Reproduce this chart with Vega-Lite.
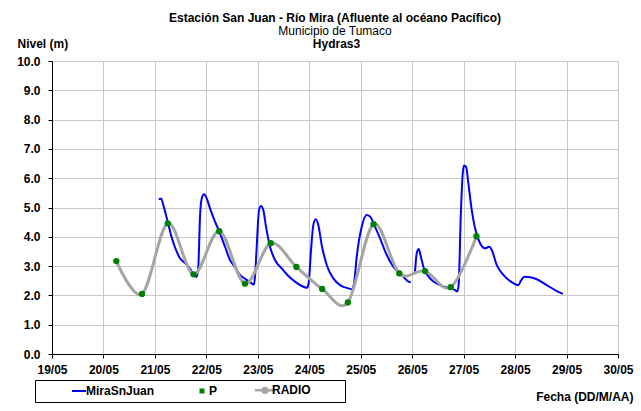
{
  "$schema": "https://vega.github.io/schema/vega-lite/v6.json",
  "width": 566,
  "height": 293,
  "autosize": "none",
  "padding": {"left": 52, "top": 61, "right": 23, "bottom": 57},
  "background": "#FFFFFF",
  "datasets": {
    "mira": [
      {"t": "2012-05-21T01:46", "nivel": 5.29, "tramo": 1},
      {"t": "2012-05-21T02:59", "nivel": 5.30, "tramo": 1},
      {"t": "2012-05-21T03:55", "nivel": 5.08, "tramo": 1},
      {"t": "2012-05-21T05:58", "nivel": 4.52, "tramo": 1},
      {"t": "2012-05-21T07:50", "nivel": 3.98, "tramo": 1},
      {"t": "2012-05-21T09:50", "nivel": 3.55, "tramo": 1},
      {"t": "2012-05-21T11:42", "nivel": 3.27, "tramo": 1},
      {"t": "2012-05-21T12:58", "nivel": 3.17, "tramo": 1},
      {"t": "2012-05-21T16:22", "nivel": 2.92, "tramo": 1},
      {"t": "2012-05-21T18:23", "nivel": 2.66, "tramo": 1},
      {"t": "2012-05-21T19:30", "nivel": 2.64, "tramo": 1},
      {"t": "2012-05-21T20:15", "nivel": 2.98, "tramo": 1},
      {"t": "2012-05-21T21:02", "nivel": 4.69, "tramo": 1},
      {"t": "2012-05-21T21:50", "nivel": 5.31, "tramo": 1},
      {"t": "2012-05-21T22:54", "nivel": 5.45, "tramo": 1},
      {"t": "2012-05-22T00:10", "nivel": 5.31, "tramo": 1},
      {"t": "2012-05-22T01:42", "nivel": 4.97, "tramo": 1},
      {"t": "2012-05-22T04:02", "nivel": 4.52, "tramo": 1},
      {"t": "2012-05-22T06:22", "nivel": 4.12, "tramo": 1},
      {"t": "2012-05-22T08:42", "nivel": 3.66, "tramo": 1},
      {"t": "2012-05-22T11:02", "nivel": 3.21, "tramo": 1},
      {"t": "2012-05-22T12:34", "nivel": 3.04, "tramo": 1},
      {"t": "2012-05-22T15:42", "nivel": 2.70, "tramo": 1},
      {"t": "2012-05-22T18:49", "nivel": 2.53, "tramo": 1},
      {"t": "2012-05-22T21:09", "nivel": 2.41, "tramo": 1},
      {"t": "2012-05-22T22:13", "nivel": 2.37, "tramo": 1},
      {"t": "2012-05-22T22:41", "nivel": 2.64, "tramo": 1},
      {"t": "2012-05-22T23:29", "nivel": 3.66, "tramo": 1},
      {"t": "2012-05-23T00:34", "nivel": 4.91, "tramo": 1},
      {"t": "2012-05-23T01:30", "nivel": 5.05, "tramo": 1},
      {"t": "2012-05-23T02:34", "nivel": 4.91, "tramo": 1},
      {"t": "2012-05-23T03:50", "nivel": 4.34, "tramo": 1},
      {"t": "2012-05-23T05:41", "nivel": 3.66, "tramo": 1},
      {"t": "2012-05-23T08:01", "nivel": 3.21, "tramo": 1},
      {"t": "2012-05-23T11:09", "nivel": 2.92, "tramo": 1},
      {"t": "2012-05-23T14:14", "nivel": 2.66, "tramo": 1},
      {"t": "2012-05-23T17:21", "nivel": 2.47, "tramo": 1},
      {"t": "2012-05-23T20:28", "nivel": 2.32, "tramo": 1},
      {"t": "2012-05-23T23:05", "nivel": 2.26, "tramo": 1},
      {"t": "2012-05-23T23:53", "nivel": 2.53, "tramo": 1},
      {"t": "2012-05-24T00:49", "nivel": 3.55, "tramo": 1},
      {"t": "2012-05-24T01:53", "nivel": 4.40, "tramo": 1},
      {"t": "2012-05-24T03:00", "nivel": 4.60, "tramo": 1},
      {"t": "2012-05-24T04:13", "nivel": 4.40, "tramo": 1},
      {"t": "2012-05-24T05:48", "nivel": 3.72, "tramo": 1},
      {"t": "2012-05-24T08:08", "nivel": 3.04, "tramo": 1},
      {"t": "2012-05-24T11:13", "nivel": 2.58, "tramo": 1},
      {"t": "2012-05-24T14:21", "nivel": 2.35, "tramo": 1},
      {"t": "2012-05-24T18:13", "nivel": 2.24, "tramo": 1},
      {"t": "2012-05-24T19:48", "nivel": 2.21, "tramo": 1},
      {"t": "2012-05-24T20:53", "nivel": 2.41, "tramo": 1},
      {"t": "2012-05-24T22:08", "nivel": 3.32, "tramo": 1},
      {"t": "2012-05-25T00:28", "nivel": 4.34, "tramo": 1},
      {"t": "2012-05-25T02:48", "nivel": 4.74, "tramo": 1},
      {"t": "2012-05-25T04:20", "nivel": 4.69, "tramo": 1},
      {"t": "2012-05-25T06:40", "nivel": 4.34, "tramo": 1},
      {"t": "2012-05-25T09:00", "nivel": 3.95, "tramo": 1},
      {"t": "2012-05-25T12:08", "nivel": 3.38, "tramo": 1},
      {"t": "2012-05-25T15:12", "nivel": 2.98, "tramo": 1},
      {"t": "2012-05-25T19:07", "nivel": 2.70, "tramo": 1},
      {"t": "2012-05-25T22:12", "nivel": 2.47, "tramo": 1},
      {"t": "2012-05-25T23:19", "nivel": 2.45, "tramo": 1},
      {"t": "2012-05-26T01:20", "nivel": 2.81, "tramo": 2},
      {"t": "2012-05-26T02:07", "nivel": 3.44, "tramo": 2},
      {"t": "2012-05-26T03:03", "nivel": 3.58, "tramo": 2},
      {"t": "2012-05-26T03:59", "nivel": 3.34, "tramo": 2},
      {"t": "2012-05-26T05:12", "nivel": 2.98, "tramo": 2},
      {"t": "2012-05-26T08:20", "nivel": 2.58, "tramo": 2},
      {"t": "2012-05-26T12:59", "nivel": 2.35, "tramo": 2},
      {"t": "2012-05-26T17:39", "nivel": 2.24, "tramo": 2},
      {"t": "2012-05-26T19:59", "nivel": 2.18, "tramo": 2},
      {"t": "2012-05-26T21:04", "nivel": 2.13, "tramo": 2},
      {"t": "2012-05-26T21:43", "nivel": 2.41, "tramo": 2},
      {"t": "2012-05-26T22:39", "nivel": 4.69, "tramo": 2},
      {"t": "2012-05-26T23:35", "nivel": 6.17, "tramo": 2},
      {"t": "2012-05-27T00:11", "nivel": 6.43, "tramo": 2},
      {"t": "2012-05-27T01:07", "nivel": 6.39, "tramo": 2},
      {"t": "2012-05-27T02:12", "nivel": 5.83, "tramo": 2},
      {"t": "2012-05-27T03:47", "nivel": 4.91, "tramo": 2},
      {"t": "2012-05-27T05:19", "nivel": 4.29, "tramo": 2},
      {"t": "2012-05-27T07:39", "nivel": 3.78, "tramo": 2},
      {"t": "2012-05-27T09:59", "nivel": 3.61, "tramo": 2},
      {"t": "2012-05-27T11:59", "nivel": 3.66, "tramo": 2},
      {"t": "2012-05-27T13:06", "nivel": 3.55, "tramo": 2},
      {"t": "2012-05-27T15:26", "nivel": 3.04, "tramo": 2},
      {"t": "2012-05-27T18:31", "nivel": 2.70, "tramo": 2},
      {"t": "2012-05-27T22:26", "nivel": 2.45, "tramo": 2},
      {"t": "2012-05-28T01:31", "nivel": 2.35, "tramo": 2},
      {"t": "2012-05-28T02:38", "nivel": 2.49, "tramo": 2},
      {"t": "2012-05-28T04:19", "nivel": 2.64, "tramo": 2},
      {"t": "2012-05-28T06:58", "nivel": 2.62, "tramo": 2},
      {"t": "2012-05-28T10:06", "nivel": 2.55, "tramo": 2},
      {"t": "2012-05-28T14:46", "nivel": 2.35, "tramo": 2},
      {"t": "2012-05-28T18:38", "nivel": 2.18, "tramo": 2},
      {"t": "2012-05-28T22:14", "nivel": 2.05, "tramo": 2}
    ],
    "radio": [
      {"t": "2012-05-20T06:00", "nivel": 3.17},
      {"t": "2012-05-20T18:00", "nivel": 2.05},
      {"t": "2012-05-21T06:00", "nivel": 4.46},
      {"t": "2012-05-21T18:00", "nivel": 2.72},
      {"t": "2012-05-22T06:00", "nivel": 4.19},
      {"t": "2012-05-22T18:00", "nivel": 2.40},
      {"t": "2012-05-23T06:00", "nivel": 3.78},
      {"t": "2012-05-23T18:00", "nivel": 2.97},
      {"t": "2012-05-24T06:00", "nivel": 2.22},
      {"t": "2012-05-24T18:00", "nivel": 1.76},
      {"t": "2012-05-25T06:00", "nivel": 4.43},
      {"t": "2012-05-25T18:00", "nivel": 2.75},
      {"t": "2012-05-26T06:00", "nivel": 2.83},
      {"t": "2012-05-26T18:00", "nivel": 2.28},
      {"t": "2012-05-27T06:00", "nivel": 4.02}
    ]
  },
  "title": {
    "text": "Estación San Juan  - Río Mira (Afluente al océano Pacífico)",
    "subtitle": "Municipio de Tumaco",
    "anchor": "middle",
    "font": "Liberation Sans",
    "fontSize": 12,
    "fontWeight": "bold",
    "color": "#000000",
    "subtitleFont": "Liberation Sans",
    "subtitleFontSize": 12,
    "subtitleFontWeight": "normal",
    "subtitleColor": "#000000",
    "subtitlePadding": 1,
    "offset": -1
  },
  "config": {
    "view": {"stroke": "#808080", "strokeWidth": 1},
    "axis": {
      "labelFont": "Liberation Sans",
      "labelFontSize": 12,
      "labelFontWeight": "bold",
      "labelColor": "#000000",
      "labelOverlap": false,
      "titleFont": "Liberation Sans",
      "titleFontSize": 12,
      "titleFontWeight": "bold",
      "titleColor": "#000000",
      "gridColor": "#C8C8C8",
      "gridOpacity": 1,
      "gridWidth": 1,
      "domainColor": "#000000",
      "tickColor": "#000000",
      "tickSize": 4
    },
    "axisY": {
      "tickCount": 20,
      "format": ".1f",
      "labelPadding": 8,
      "labelOverlap": false,
      "labelFlush": false,
      "title": "Nivel (m)",
      "titleAngle": 0,
      "titleAlign": "left",
      "titleX": -35,
      "titleY": -14,
      "titleBaseline": "alphabetic"
    }
  },
  "layer": [
    {
      "data": {"name": "mira"},
      "mark": {"type": "line", "interpolate": "monotone", "strokeWidth": 2},
      "encoding": {
        "x": {
          "field": "t",
          "type": "temporal",
          "scale": {"domain": [{"year": 2012, "month": 5, "date": 19}, {"year": 2012, "month": 5, "date": 30}]},
          "axis": {
            "format": "%d/%m",
            "tickCount": {"interval": "day", "step": 1},
            "labelPadding": 6,
            "labelFlush": false,
            "labelOverlap": false,
            "title": "Fecha (DD/M/AA)",
            "titleAlign": "right",
            "titleAnchor": "end",
            "titleX": 581,
            "titleY": 46,
            "titleBaseline": "alphabetic"
          }
        },
        "y": {
          "field": "nivel",
          "type": "quantitative",
          "title": "Nivel (m)",
          "scale": {"domain": [0, 10], "nice": false, "zero": true},
          "axis": {"tickCount": 20, "values": [0, 1, 2, 3, 4, 5, 6, 7, 8, 9, 10]}
        },
        "color": {
          "datum": "MiraSnJuan",
          "scale": {"domain": ["MiraSnJuan", "P", "RADIO"], "range": ["#0000FF", "#008000", "#A5A5A5"]},
          "legend": {
            "title": " ",
            "titleOrient": "right",
            "titlePadding": 30,
            "orient": "none",
            "legendX": -17,
            "legendY": 319,
            "direction": "horizontal",
            "padding": 4,
            "strokeColor": "#000000",
            "fillColor": "#FFFFFF",
            "symbolType": "stroke",
            "symbolSize": 196,
            "symbolStrokeWidth": 2,
            "symbolOffset": 34,
            "labelOffset": 1,
            "columnPadding": 7,
            "labelFont": "Liberation Sans",
            "labelFontSize": 12,
            "labelFontWeight": "bold",
            "labelColor": "#000000",
            "encode": {
              "symbols": {
                "update": {
                  "shape": {"signal": "datum.value === 'P' ? 'square' : datum.value === 'RADIO' ? 'M-1,0L1,0M-0.24,0A0.24,0.24,0,1,0,0.24,0A0.24,0.24,0,1,0,-0.24,0Z' : 'stroke'"},
                  "size": {"signal": "datum.value === 'P' ? 9 : datum.value === 'RADIO' ? 400 : 196"},
                  "fill": {"signal": "datum.value === 'MiraSnJuan' ? 'transparent' : '#008000'"},
                  "stroke": {"signal": "datum.value === 'P' ? 'transparent' : datum.value === 'RADIO' ? '#A5A5A5' : '#0000FF'"},
                  "strokeWidth": {"signal": "datum.value === 'RADIO' ? 2.5 : 2"},
                  "opacity": {"value": 1}
                }
              }
            }
          }
        },
        "detail": {"field": "tramo", "type": "nominal"}
      }
    },
    {
      "data": {"name": "radio"},
      "mark": {"type": "line", "interpolate": "cardinal", "strokeWidth": 3},
      "encoding": {
        "x": {"field": "t", "type": "temporal", "axis": null},
        "y": {"field": "nivel", "type": "quantitative", "title": "Nivel (m)", "axis": {"tickCount": 20, "values": [0, 1, 2, 3, 4, 5, 6, 7, 8, 9, 10]}},
        "color": {"datum": "RADIO"}
      }
    },
    {
      "data": {"name": "radio"},
      "mark": {"type": "point", "filled": true, "size": 40, "color": "#008000", "opacity": 1},
      "encoding": {
        "x": {
          "field": "t",
          "type": "temporal",
          "axis": {
            "orient": "top",
            "labels": false,
            "ticks": false,
            "domain": false,
            "grid": false,
            "title": "Hydras3",
            "titleX": 284,
            "titleY": -14,
            "titleAlign": "center",
            "titleBaseline": "alphabetic"
          }
        },
        "y": {"field": "nivel", "type": "quantitative", "title": "Nivel (m)", "axis": {"tickCount": 20, "values": [0, 1, 2, 3, 4, 5, 6, 7, 8, 9, 10]}}
      }
    }
  ],
  "resolve": {"axis": {"x": "independent"}}
}
